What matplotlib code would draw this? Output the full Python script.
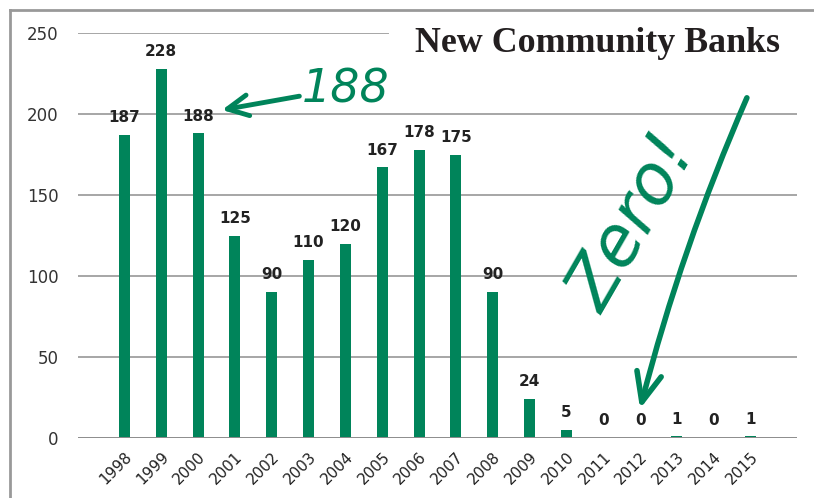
import matplotlib.pyplot as plt
from matplotlib.patches import FancyArrowPatch
from matplotlib.lines import Line2D

# Data
years = [str(y) for y in range(1998, 2016)]
new_banks = [187, 228, 188, 125, 90, 110, 120, 167, 178, 175, 90, 24, 5, 0, 0, 1, 0, 1]
y_ticks = [0, 50, 100, 150, 200, 250]

GREEN = "#00845A"
GRID = "#a6a6a6"
NARROW = ["Liberation Sans Narrow", "DejaVu Sans"]

fig = plt.figure(figsize=(8.14, 4.98), dpi=100)
ax = fig.add_axes([0.0958, 0.1205, 0.8833, 0.8132])

x = list(range(len(years)))
ax.bar(x, new_banks, width=0.3, color=GREEN, zorder=3)

# value labels above bars
for xi, v in zip(x, new_banks):
    ax.annotate(str(v), (xi, v), xytext=(0, 7), textcoords="offset points",
                ha="center", va="bottom", fontsize=11, fontweight="bold",
                family=NARROW, color="#222222")

ax.set_xlim(-1.26, len(years) - 1 + 1.26)
ax.set_ylim(0, 250)

# gridlines (top one stops short of the title)
for t in y_ticks[1:-1]:
    ax.axhline(t, color=GRID, lw=1.4, zorder=1)
ax.axhline(250, xmax=0.431, color=GRID, lw=1.4, zorder=1)
ax.axhline(0, color="#8c8c8c", lw=1.4, zorder=4)

for s in ax.spines.values():
    s.set_visible(False)
ax.set_yticks(y_ticks)
ax.set_yticklabels([str(t) for t in y_ticks], family=NARROW, fontsize=12, color="#333333")
ax.set_xticks(x)
ax.set_xticklabels(years, rotation=45, ha="right", va="top", rotation_mode="anchor",
                   family=NARROW, fontsize=11, color="#222222")
ax.tick_params(axis="both", length=0)
ax.tick_params(axis="y", pad=14)
ax.tick_params(axis="x", pad=8)

# title
fig.text(0.5098, 0.913, "New Community Banks", family=["Liberation Serif", "DejaVu Serif"],
         fontweight="bold", fontsize=25.8, color="#231f20", ha="left", va="center")

# frame lines at top and left of the figure
fig.add_artist(Line2D([10 / 814, 1], [1 - 10 / 498, 1 - 10 / 498], color="#999999", lw=2,
                      transform=fig.transFigure))
fig.add_artist(Line2D([10 / 814, 10 / 814], [0, 1 - 10 / 498], color="#999999", lw=2,
                      transform=fig.transFigure))

# "188" callout
ax.text(6.0, 215, "188", fontsize=33, style="italic", color=GREEN, ha="center", va="center",
        family=["DejaVu Sans"])
ax.add_patch(FancyArrowPatch((4.75, 211), (2.65, 202.5),
                             arrowstyle="->,head_length=10,head_width=5",
                             color=GREEN, lw=3.5, mutation_scale=1.5, shrinkA=0, shrinkB=0,
                             clip_on=False, zorder=5))

# "Zero!" callout
ax.text(13.8, 132, "Zero!", fontsize=50, style="italic", color=GREEN, rotation=60,
        ha="center", va="center", family=["DejaVu Sans"])
ax.add_patch(FancyArrowPatch((16.9, 210), (14.0, 18),
                             connectionstyle="arc3,rad=0.04",
                             arrowstyle="->,head_length=14,head_width=6",
                             color=GREEN, lw=4, mutation_scale=1.5, shrinkA=0, shrinkB=0,
                             zorder=5))

fig.savefig("out.png", dpi=100)
